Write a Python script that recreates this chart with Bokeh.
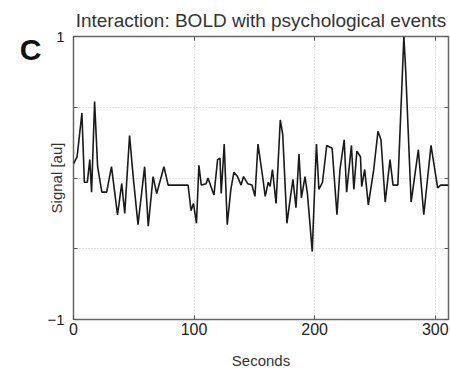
from bokeh.plotting import figure
from bokeh.models import FixedTicker, LinearAxis, Range1d
from bokeh.embed import file_html
from bokeh.resources import INLINE

title_text = "Interaction: BOLD with psychological events"
panel_letter = "C"
x_label = "Seconds"
y_label = "Signal [au]"
x_ticks = [0, 100, 200, 300]
y_labeled_ticks = [-1, 1]
y_grid_ticks = [-1, -0.5, 0, 0.5, 1]
y_inner_ticks = [-0.5, 0, 0.5]

seconds = [0, 3, 7, 9, 11.5, 13.5, 15, 17.5, 20, 23.5,
           27.5, 31.5, 36.5, 40, 42.5, 46.5, 49.5, 53.5, 59, 62,
           66, 69, 75, 78.5, 95, 97.5, 99.5, 102, 104, 106,
           110, 111.5, 116.5, 119.5, 121.5, 122.5, 125, 127.5, 130.5, 133,
           136, 139, 141, 144.5, 148, 150.5, 153, 157, 159, 161.5,
           163, 165, 168, 171.5, 173.5, 177, 180, 182, 184.5, 187,
           189, 192, 194, 198, 199.5, 201.5, 203.5, 206.5, 210, 214.5,
           218.5, 221, 224.5, 226.5, 230.5, 232.5, 235, 238, 239, 241.5,
           244.5, 249, 252.5, 255, 258.5, 262.5, 265, 269, 274, 275.5,
           280, 286, 290.5, 296.5, 302, 304.5, 311]
signal = [0.10, 0.15, 0.46, -0.03, -0.03, 0.13, -0.10, 0.54, 0.08, -0.10,
          -0.10, 0.08, -0.26, -0.04, -0.25, 0.30, 0.01, -0.33, 0.08, -0.34,
          0.01, -0.11, 0.08, -0.05, -0.05, -0.23, -0.18, -0.32, 0.09, -0.05,
          -0.04, 0.0, -0.12, 0.13, 0.14, -0.11, 0.24, -0.33, -0.08, 0.04,
          0.01, -0.05, 0.01, -0.04, -0.05, -0.13, 0.24, 0.0, -0.13, -0.03,
          -0.06, 0.06, -0.18, 0.41, 0.31, -0.32, -0.13, -0.01, -0.21, 0.17,
          -0.14, 0.01, -0.11, -0.52, -0.18, 0.24, -0.08, -0.03, 0.23, 0.21,
          -0.26, 0.06, 0.27, -0.10, 0.23, -0.08, 0.19, 0.15, -0.06, 0.06,
          -0.19, 0.06, 0.33, 0.27, -0.17, 0.13, -0.05, -0.05, 1.0, 0.76,
          -0.17, 0.20, -0.26, 0.23, -0.07, -0.05, -0.05]

# vertical position (data units) where the panel letter sits
letter_y = 0.91

FONT = "Liberation Sans"
TICK_COLOR = "#555555"

p = figure(width=450, height=371, output_backend="svg", toolbar_location=None,
           x_range=Range1d(0, 311), y_range=Range1d(-1, 1),
           min_border_left=73, min_border_right=2, min_border_top=36, min_border_bottom=51,
           title=title_text)
p.title.align = "center"
p.title.text_font = FONT
p.title.text_font_size = "19px"
p.title.text_font_style = "normal"
p.title.text_color = "#333333"
p.title.standoff = 12

p.outline_line_color = "#666666"
p.outline_line_width = 1.5
p.background_fill_color = "white"
p.border_fill_color = "white"

p.line(seconds, signal, line_color="#1a1a1a", line_width=1.6)

# bottom x axis
xa = p.xaxis[0]
xa.ticker = FixedTicker(ticks=x_ticks)
xa.axis_label = x_label
xa.major_label_text_font_size = "16px"
xa.major_label_standoff = 3
xa.axis_label_text_font_size = "15px"
xa.axis_label_standoff = 14

# left y axis
ya = p.yaxis[0]
ya.ticker = FixedTicker(ticks=y_labeled_ticks, minor_ticks=y_inner_ticks)
ya.axis_label = y_label
ya.major_label_text_font_size = "15px"
ya.major_label_standoff = 9
ya.axis_label_text_font_size = "15px"
ya.axis_label_standoff = -21

for ax in (xa, ya):
    ax.axis_line_color = None
    ax.major_tick_in = 4
    ax.major_tick_out = 0
    ax.minor_tick_in = 4
    ax.minor_tick_out = 0
    ax.major_tick_line_color = TICK_COLOR
    ax.minor_tick_line_color = TICK_COLOR
    ax.major_label_text_font = FONT
    ax.major_label_text_color = "#222222"
    ax.axis_label_text_font = FONT
    ax.axis_label_text_font_style = "normal"
    ax.axis_label_text_color = "#333333"

# panel letter, drawn as the only label of an outer left axis
letter_axis = LinearAxis(ticker=FixedTicker(ticks=[letter_y]),
                         major_label_overrides={letter_y: panel_letter},
                         axis_line_color=None, major_tick_line_color=None,
                         minor_tick_line_color=None,
                         major_label_text_font=FONT, major_label_text_font_size="30px",
                         major_label_text_font_style="bold",
                         major_label_text_color="#111111",
                         major_label_standoff=-2)
p.add_layout(letter_axis, "left")

# tick marks on the right and top of the box
right = LinearAxis(ticker=FixedTicker(ticks=[], minor_ticks=y_grid_ticks),
                   axis_line_color=None, major_tick_line_color=None,
                   minor_tick_in=4, minor_tick_out=0, minor_tick_line_color=TICK_COLOR,
                   major_label_standoff=0)
p.add_layout(right, "right")
top = LinearAxis(ticker=FixedTicker(ticks=[], minor_ticks=x_ticks),
                 axis_line_color=None, major_tick_line_color=None,
                 minor_tick_in=4, minor_tick_out=0, minor_tick_line_color=TICK_COLOR,
                 major_label_standoff=0)
p.add_layout(top, "above")

p.xgrid.ticker = FixedTicker(ticks=x_ticks)
p.ygrid.ticker = FixedTicker(ticks=y_grid_ticks)
for g in (p.xgrid, p.ygrid):
    g.grid_line_color = "#c4c4c4"
    g.grid_line_dash = "1 2"
    g.grid_line_width = 1

open("out.html", "w").write(file_html(p, INLINE))
